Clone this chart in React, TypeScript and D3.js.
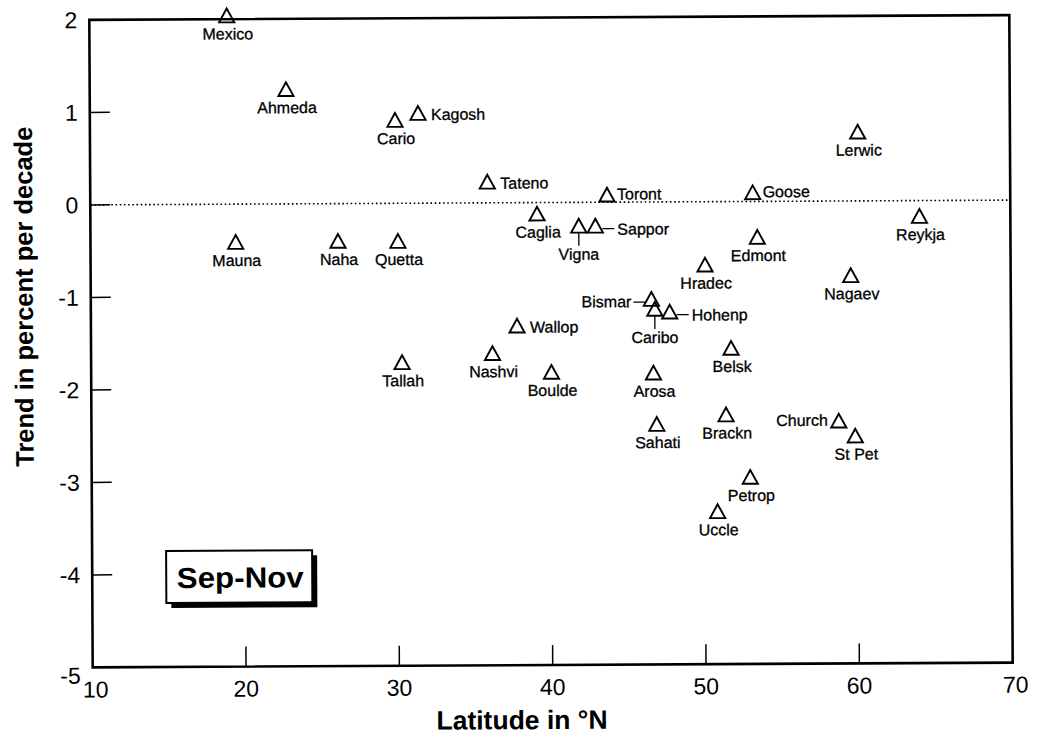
import React from "react";
import * as d3 from "d3";

const stations = ["Mexico","Ahmeda","Cario","Kagosh","Mauna","Naha","Quetta","Tateno","Caglia","Vigna","Sappor","Toront","Goose","Edmont","Lerwic","Reykja","Hradec","Nagaev","Bismar","Caribo","Hohenp","Wallop","Nashvi","Tallah","Boulde","Arosa","Belsk","Sahati","Brackn","Church","St Pet","Petrop","Uccle"];
const latitude = [18.96,22.8,29.9,31.4,19.47,26.14,30.05,35.9,39.13,41.85,42.93,43.7,53.2,53.49,60.07,64.07,50.07,59.57,46.56,46.78,47.75,37.79,36.18,30.28,40.02,46.67,51.74,46.87,51.39,58.74,59.81,52.95,50.81];
const trend = [2.04,1.24,0.9,0.975,-0.41,-0.404,-0.408,0.228,-0.12,-0.253,-0.254,0.081,0.098,-0.385,0.748,-0.167,-0.681,-0.804,-1.049,-1.157,-1.187,-1.33,-1.626,-1.719,-1.832,-1.846,-1.583,-2.401,-2.302,-2.375,-2.538,-2.978,-3.348];

const xTicks = [10, 20, 30, 40, 50, 60, 70];
const yTicks = [-5, -4, -3, -2, -1, 0, 1, 2];
const xTitle = "Latitude in °N";
const yTitle = "Trend in percent per decade";
const seasonLabel = "Sep-Nov";

// label placement style per station
const placement: Record<string, string> = {
  Kagosh: "right", Tateno: "right", Toront: "rightTight", Goose: "rightTight", Wallop: "right",
  Sappor: "rightLeader", Hohenp: "rightLeader", Bismar: "leftLeader", Church: "left",
  Vigna: "belowLeader", Caribo: "belowLeader",
};

const FONT = "'Liberation Sans', Arial, Helvetica, sans-serif";

export default function App() {
  const left = 91, right = 1011, top = 17.5, bottom = 665;
  const x = d3.scaleLinear().domain([10, 70]).range([left, right]);
  const y = d3.scaleLinear().domain([-5, 2]).range([bottom, top]);
  const tri = (cx: number, cy: number) => {
    const p = d3.path();
    p.moveTo(cx, cy - 7);
    p.lineTo(cx + 7.6, cy + 6.8);
    p.lineTo(cx - 7.6, cy + 6.8);
    p.closePath();
    return p.toString();
  };

  const labelEls = stations.map((name, i) => {
    const cx = x(latitude[i]);
    const cy = y(trend[i]);
    const kind = placement[name] || "below";
    const common = { fontFamily: FONT, fontSize: 16, fill: "#000", stroke: "#000", strokeWidth: 0.3 } as any;
    if (kind === "right") return <text key={name} x={cx + 13} y={cy + 7} {...common}>{name}</text>;
    if (kind === "rightTight") return <text key={name} x={cx + 10} y={cy + 5} {...common}>{name}</text>;
    if (kind === "left") return <text key={name} x={cx - 11} y={cy + 5} textAnchor="end" {...common}>{name}</text>;
    if (kind === "rightLeader") return (
      <g key={name}>
        <line x1={cx + 7} x2={cx + 19} y1={cy + 3} y2={cy + 3} stroke="#000" strokeWidth={1.3} />
        <text x={cx + 22} y={cy + 9} {...common}>{name}</text>
      </g>
    );
    if (kind === "leftLeader") return (
      <g key={name}>
        <line x1={cx - 18} x2={cx - 5} y1={cy + 3} y2={cy + 3} stroke="#000" strokeWidth={1.3} />
        <text x={cx - 20} y={cy + 8} textAnchor="end" {...common}>{name}</text>
      </g>
    );
    if (kind === "belowLeader") return (
      <g key={name}>
        <line x1={cx} x2={cx} y1={cy + 7} y2={cy + 20} stroke="#000" strokeWidth={1.3} />
        <text x={cx} y={cy + 34} textAnchor="middle" {...common}>{name}</text>
      </g>
    );
    return <text key={name} x={cx + 1} y={cy + 24} textAnchor="middle" {...common}>{name}</text>;
  });

  return (
    <svg width={1038} height={745} style={{ position: "absolute", left: 0, top: 0, background: "#fff" }}>
      <rect width={1038} height={745} fill="#fff" />
      <g transform="rotate(-0.3, 551, 341)">
        <line x1={left} x2={right} y1={y(0)} y2={y(0)} stroke="#000" strokeWidth={1.6} strokeDasharray="1.6 2.6" />
        {yTicks.filter((t) => t > -5 && t < 2).map((t) => (
          <line key={"yt" + t} x1={left} x2={left + 20} y1={y(t)} y2={y(t)} stroke="#000" strokeWidth={1.5} />
        ))}
        {xTicks.filter((t) => t > 10 && t < 70).map((t) => (
          <line key={"xt" + t} x1={x(t)} x2={x(t)} y1={bottom} y2={bottom - 20} stroke="#000" strokeWidth={1.5} />
        ))}
        <rect x={left} y={top} width={right - left} height={bottom - top} fill="none" stroke="#000" strokeWidth={2.6} />
        {yTicks.map((t) => (
          <text key={"yl" + t} x={left - 12} y={y(t) + (t === -5 ? 8 : 0)} dy="0.36em" textAnchor="end" fontFamily={FONT} fontSize={23} fill="#000">{t}</text>
        ))}
        {xTicks.map((t) => (
          <text key={"xl" + t} x={x(t) + (t === 10 || t === 70 ? 3 : 0)} y={bottom + 30} textAnchor="middle" fontFamily={FONT} fontSize={23} fill="#000">{t}</text>
        ))}
        <text transform="translate(33,294) rotate(-90)" textAnchor="middle" fontFamily={FONT} fontWeight="bold" fontSize={25.5} fill="#000">{yTitle}</text>
        <text x={520} y={729} textAnchor="middle" fontFamily={FONT} fontWeight="bold" fontSize={26.5} fill="#000">{xTitle}</text>
        <rect x={170} y={554} width={146} height={52} fill="#000" />
        <rect x={165} y={549} width={146} height={52} fill="#fff" stroke="#000" strokeWidth={2} />
        <text x={239} y={586} textAnchor="middle" fontFamily={FONT} fontWeight="bold" fontSize={29} textLength={127} lengthAdjust="spacingAndGlyphs" fill="#000">{seasonLabel}</text>
        {stations.map((name, i) => (
          <path key={"p" + name} d={tri(x(latitude[i]), y(trend[i]))} fill="none" stroke="#000" strokeWidth={1.9} strokeLinejoin="miter" />
        ))}
        {labelEls}
      </g>
    </svg>
  );
}
